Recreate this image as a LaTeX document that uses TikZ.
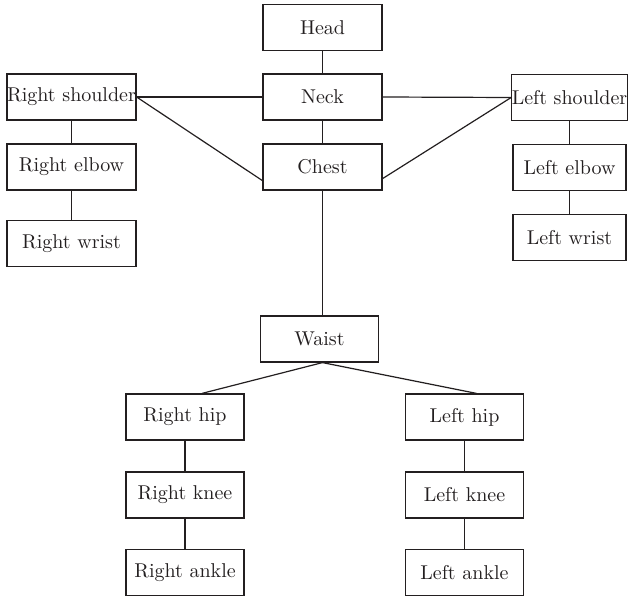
\documentclass[tikz,border=0pt]{standalone}
\usetikzlibrary{calc}
\definecolor{ink}{RGB}{35,31,32}
\tikzset{
  joint/.style={draw=ink, text=ink, line width=0.6pt, minimum height=23pt, inner sep=0pt},
  midjoint/.style={joint, minimum width=59.5pt},
  rarmjoint/.style={joint, minimum width=64.5pt},
  larmjoint/.style={joint, minimum width=56.5pt},
  legjoint/.style={joint, minimum width=59pt},
  bone/.style={draw=ink, line width=0.6pt}
}
\begin{document}
\begin{tikzpicture}[x=0.5pt, y=-0.5pt]
\useasboundingbox (0,0) rectangle (628,599);

\node[midjoint] (head)  at (322.5,27.5) {Head};
\node[midjoint] (neck)  at (322.5,97)   {Neck};
\node[midjoint] (chest) at (322.5,167)  {Chest};
\node[legjoint] (waist) at (319.5,339)  {Waist};

\node[rarmjoint] (rshoulder) at (71.5,97)    {Right shoulder};
\node[rarmjoint] (relbow)    at (71.5,167)   {Right elbow};
\node[rarmjoint] (rwrist)    at (71.5,243.5) {Right wrist};

\node[larmjoint] (lshoulder) at (569.5,97.5)  {Left shoulder};
\node[larmjoint] (lelbow)    at (569.5,167.5) {Left elbow};
\node[larmjoint] (lwrist)    at (569.5,237.5) {Left wrist};

\node[legjoint] (rhip)   at (185,417)   {Right hip};
\node[legjoint] (rknee)  at (185,495)   {Right knee};
\node[legjoint] (rankle) at (185,572.5) {Right ankle};

\node[legjoint] (lhip)   at (464.5,417)   {Left hip};
\node[legjoint] (lknee)  at (464.5,495)   {Left knee};
\node[legjoint] (lankle) at (464.5,572.5) {Left ankle};

\foreach \a/\b in {head/neck, neck/chest, rshoulder/relbow, relbow/rwrist,
                   lshoulder/lelbow, lelbow/lwrist, rhip/rknee, rknee/rankle,
                   lhip/lknee, lknee/lankle}
{
  \draw[bone] (\a.south) -- (\b.north);
}

\draw[bone] (rshoulder.east) -- (neck.west);
\draw[bone] (neck.east) -- (lshoulder.west);
\draw[bone] (rshoulder.east) -- ([yshift=5pt]chest.south west);
\draw[bone] (lshoulder.west) -- ([yshift=6pt]chest.south east);
\draw[bone] (chest.south) -- (chest.south |- waist.north);
\draw[bone] ([xshift=8.5pt]rhip.north) -- (chest.south |- waist.south) -- ([xshift=6pt]lhip.north);

\end{tikzpicture}
\end{document}
